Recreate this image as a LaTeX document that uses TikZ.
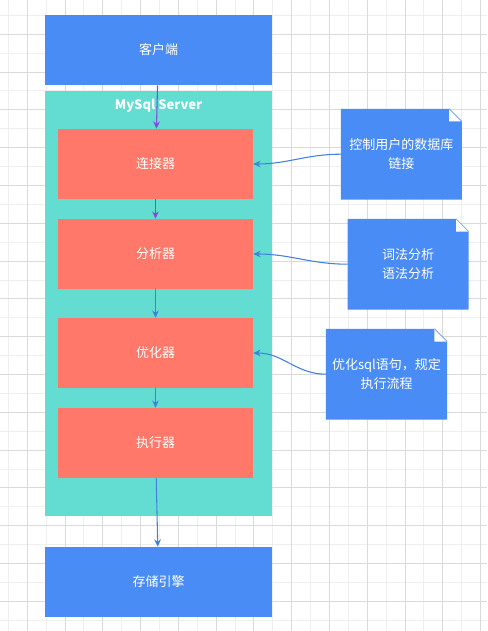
\documentclass[tikz,border=0pt]{standalone}
\usepackage{fontspec}
\setmainfont{Noto Sans CJK SC}
\usetikzlibrary{arrows.meta,calc,backgrounds}
\definecolor{clientblue}{HTML}{4A8CF5}
\definecolor{serverteal}{HTML}{63DDD2}
\definecolor{stagered}{HTML}{FF7869}
\definecolor{linkblue}{HTML}{4280DC}
\definecolor{linkpurple}{HTML}{7E4FD6}
\definecolor{gridlight}{HTML}{EFEFEF}
\definecolor{griddark}{HTML}{DADADA}

\begin{document}
\begin{tikzpicture}
[x=0.75pt,y=-0.75pt,
every node/.style={text=white,inner sep=0pt,font=\fontsize{9.75}{14.25}\selectfont},
outerbox/.style={rectangle,fill=clientblue,minimum width=170.25pt,minimum height=52.5pt},
stagebox/.style={rectangle,fill=stagered,minimum width=146.25pt,minimum height=52.5pt},
notebox/.style={rectangle,minimum width=90.4pt,minimum height=67.7pt,align=center},
flow/.style={-{Stealth[length=5.5pt,width=5pt]},line width=0.8pt,linkblue}]
\useasboundingbox (0,0) rectangle (487,631);
% grid
\begin{pgfonlayer}{background}
\fill[white] (0,0) rectangle (487,631);
\foreach \j in {0,...,12}
\draw[gridlight,line width=0.75pt] (8.4+37.78*\j,0) -- ++(0,631);
\foreach \j in {0,...,16}
\draw[gridlight,line width=0.75pt] (0,15.4+37.8*\j) -- ++(487,0);
\foreach \j in {0,...,12}
\draw[griddark,line width=0.75pt] (27.3+37.78*\j,0) -- ++(0,631);
\foreach \j in {0,...,15}
\draw[griddark,line width=0.75pt] (0,34.3+37.8*\j) -- ++(487,0);
\end{pgfonlayer}

\node[outerbox] (client) at (158.5,50) {客户端};
\node[outerbox,fill=serverteal,minimum height=318.75pt] (server) at (158.5,303.5) {};
\node[font=\fontsize{9.75}{14.25}\selectfont\bfseries] (servertitle) at (158.5,106) {MySql Server};
\node[stagebox] (connector) at (155.5,164) {连接器};
\node[stagebox] (parser) at (155.5,254) {分析器};
\node[stagebox] (optimizer) at (155.5,353) {优化器};
\node[stagebox] (executor) at (155.5,443) {执行器};
\node[outerbox] (engine) at (158.5,582) {存储引擎};

\node[notebox] (noteconn) at (401.3,154.2) {控制用户的数据库\\链接};
\node[notebox] (noteparse) at (408.2,264.2) {词法分析\\语法分析};
\node[notebox] (noteopt) at (386.5,374.2) {优化sql语句，规定\\执行流程};
\begin{pgfonlayer}{background}
\foreach \n in {noteconn,noteparse,noteopt} {
\fill[clientblue] (\n.south west) |- ($(\n.north east)+(-12.7,0)$) -- ($(\n.north east)+(0,12.7)$) |- (\n.south west) -- cycle;
\fill[white] ($(\n.north east)+(-12.7,0)$) -- ($(\n.north east)+(-12.7,12.7)$) -- ($(\n.north east)+(0,12.7)$) -- cycle;
\draw[linkblue!80,line width=0.5pt] ($(\n.north east)+(-12.7,0)$) -- ($(\n.north east)+(0,12.7)$);
}
\end{pgfonlayer}

\draw[flow,linkpurple] (client) -- (connector);
\draw[flow,linkpurple] (connector) -- (parser);
\foreach \from/\to in {parser/optimizer,optimizer/executor,executor/engine}
\draw[flow] (\from) -- (\to);
\foreach \from/\to in {noteconn/connector,noteparse/parser,noteopt/optimizer}
\draw[flow] (\from) to[out=180,in=0] (\to);
\end{tikzpicture}
\end{document}
